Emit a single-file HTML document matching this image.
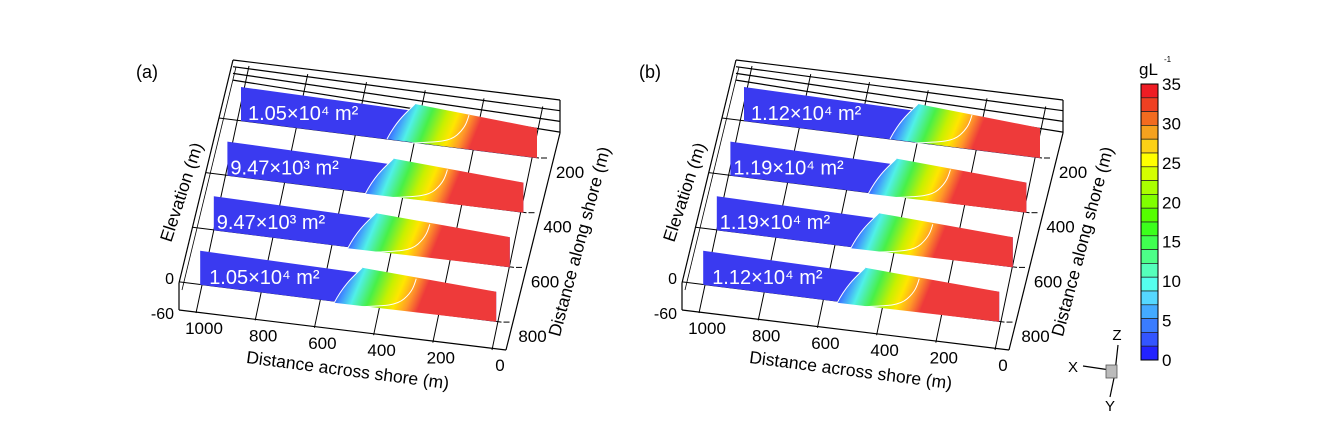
<!DOCTYPE html>
<html><head><meta charset="utf-8">
<style>
html,body{margin:0;padding:0;background:#fff;}
svg{display:block;font-family:"Liberation Sans",Arial,sans-serif;}
</style></head>
<body>
<svg id="fig" width="1338" height="424" viewBox="0 0 1338 424" xmlns="http://www.w3.org/2000/svg">
<defs id="defs"></defs>
<g id="panels"></g>
<g id="cbar"></g>
<g id="triad">
  <line x1="1118" y1="345" x2="1115" y2="372" stroke="#000" stroke-width="1.2"/>
  <line x1="1083" y1="366" x2="1110" y2="370" stroke="#000" stroke-width="1.2"/>
  <line x1="1114" y1="378" x2="1110" y2="397" stroke="#000" stroke-width="1.2"/>
  <rect x="1106" y="365" width="11" height="13" fill="#bbb" stroke="#555" stroke-width="0.8"/>
  <text x="1117" y="340" font-size="15" text-anchor="middle">Z</text>
  <text x="1073" y="372" font-size="15" text-anchor="middle">X</text>
  <text x="1110" y="411" font-size="15" text-anchor="middle">Y</text>
</g>
</svg>
<script>
const acrossTicks = ["1000","800","600","400","200","0"];
const alongTicks = ["200","400","600","800"];
const elevTicks = ["0","-60"];
const areaA = ["1.05×10⁴ m²","9.47×10³ m²","9.47×10³ m²","1.05×10⁴ m²"];
const areaB = ["1.12×10⁴ m²","1.19×10⁴ m²","1.19×10⁴ m²","1.12×10⁴ m²"];
const cbarTicks = [35,30,25,20,15,10,5,0];
const cbarColors = ["#ee1c24","#ef4022","#f26b1f","#f5a21e","#fcd116","#ffff00","#d4ff00","#aaff00","#80ff00","#55ff00","#3cff1c","#40ff50","#4dff88","#55ffbb","#55ffee","#55d8ff","#44aaff","#3a7cff","#3355ff","#2222ff"];

const NS="http://www.w3.org/2000/svg";
function mk(tag, attrs, parent, text){
  const e=document.createElementNS(NS,tag);
  for(const k in attrs) e.setAttribute(k, attrs[k]);
  if(text!==undefined) e.textContent=text;
  parent.appendChild(e); return e;
}
const panels=document.getElementById('panels');
const defs=document.getElementById('defs');
const stops=[[0,"#3a3af0"],[0.1,"#3f8cff"],[0.24,"#50f0e8"],[0.42,"#48f048"],[0.6,"#c8f000"],[0.72,"#ffe600"],[0.86,"#ff9a28"],[1,"#ee3a3a"]];
let gid=0;

function drawPanel(dx, letter, areas){
  const g=mk('g',{transform:`translate(${dx},0)`},panels);
  
  
  const L={stroke:'#000','stroke-width':1.2,fill:'none'};
  const wallX=y=>233-(y-60)*54/223;
  for(let i=0;i<4;i++){
    mk('line',Object.assign({x1:233,y1:60+i*6.7,x2:560,y2:100+i*10.7},L),g);
  }
  mk('line',Object.assign({x1:233,y1:60,x2:179,y2:283},L),g);
  mk('line',Object.assign({x1:236,y1:67,x2:182,y2:290},{stroke:'#000','stroke-width':0.8}),g);
  mk('line',Object.assign({x1:179,y1:283,x2:179,y2:310},L),g);
  mk('line',Object.assign({x1:560,y1:100,x2:560,y2:133},L),g);
  mk('line',Object.assign({x1:560,y1:133,x2:506,y2:350},L),g);
  mk('line',Object.assign({x1:179,y1:310,x2:506,y2:350},L),g);
  acrossTicks.forEach((t,i)=>{
    const tx=249+i*58.75, ty=66+i*8.1, bx=196+i*59.2, by=313+i*7.4;
    const ln=mk('line',{x1:tx,y1:ty,x2:bx,y2:by,stroke:'#000','stroke-width':1},g);
    
    
    const lb=mk('text',{x:bx+8,y:by+21,'font-size':17,'text-anchor':'middle'},g,t);
    
    
  });
  alongTicks.forEach((t,i)=>{
    const y0=158+i*54.7, xr=539-i*12.5;
    let xl=wallX(y0-40);
    for(let k=0;k<3;k++){ const yl=y0-(xr-xl)*0.125; xl=wallX(yl); }
    const yl=y0-(xr-xl)*0.125;
    const ln=mk('line',{x1:xl,y1:yl,x2:xr,y2:y0,stroke:'#000','stroke-width':1},g);
    
    
    mk('line',{x1:xr+2,y1:y0,x2:xr+8,y2:y0,stroke:'#000','stroke-width':1},g);
    const lb=mk('text',{x:xr+31,y:y0+20,'font-size':17,'text-anchor':'middle'},g,t);
    
    
  });
  areas.forEach((a,i)=>{
    const ox=-13.6*i, oy=54.6*i;
    const x0=241+ox, x1=537+ox;
    const pts=`${x0},${87+oy} ${x1},${128+oy} ${x1},${158+oy} ${x0},${121+oy}`;
    const sh=(i===0?0:-8)-(i>1?4:0);
    const bx=387+ox+sh;
    const id='sg'+(gid++);
    const lg=mk('linearGradient',{id:id,gradientUnits:'userSpaceOnUse',x1:bx+4,y1:118+oy,x2:bx+82,y2:150+oy},defs);
    stops.forEach(s=>mk('stop',{offset:s[0],'stop-color':s[1]},lg));
    const bl=mk('polygon',{points:pts,fill:'#3a3af0'},g);
    
    
    const gp=`M ${bx},${139+oy} C ${bx+10},${120+oy} ${bx+20},${112+oy} ${bx+28},${104+oy} L ${x1},${128+oy} L ${x1},${158+oy} Z`;
    const gr=mk('path',{d:gp,fill:`url(#${id})`},g);
    
    
    mk('path',{d:`M ${bx},${139+oy} C ${bx+10},${120+oy} ${bx+20},${112+oy} ${bx+28},${104+oy}`,fill:'none',stroke:'#fff','stroke-width':1},g);
    mk('path',{d:`M ${bx+25},${143+oy} C ${bx+50},${142+oy} ${bx+62},${142+oy} ${bx+70},${135+oy} C ${bx+78},${128+oy} ${bx+80},${122+oy} ${bx+82},${115+oy}`,fill:'none',stroke:'#fff','stroke-width':1},g);
    const tx=mk('text',{x:248+ox-(i>0?4:0)+(i===3?6:0),y:120+oy,'font-size':20,fill:'#fff'},g,a);
    
    
  });
  elevTicks.forEach((t,i)=>{
    const lb=mk('text',{x:174,y:284+i*35,'font-size':16,'text-anchor':'end'},g,t);
    
    
  });
  const pl=mk('text',{x:136,y:78,'font-size':18},g,'('+letter+')');
  
  
  const t1=mk('text',{x:0,y:0,'font-size':17.5,'text-anchor':'middle',transform:'translate(187,194) rotate(-72)'},g,'Elevation (m)');
  
  
  const t2=mk('text',{x:0,y:0,'font-size':17.5,'text-anchor':'middle',transform:'translate(347,376) rotate(7.4)'},g,'Distance across shore (m)');
  
  
  const t3=mk('text',{x:0,y:0,'font-size':17.5,'text-anchor':'middle',transform:'translate(585,243) rotate(-75)'},g,'Distance along shore (m)');
  
  
}
drawPanel(0,'a',areaA);
drawPanel(503,'b',areaB);

const cb=document.getElementById('cbar');
const cTop=84, cBot=360, cx=1141, cw=17;
const vmax=cbarTicks[0], vmin=cbarTicks[cbarTicks.length-1];
const yv=v=>cBot-(v-vmin)/(vmax-vmin)*(cBot-cTop);
const seg=(cBot-cTop)/cbarColors.length;
cbarColors.forEach((c,i)=>{
  const r=mk('rect',{x:cx,y:cTop+i*seg,width:cw,height:seg,fill:c,stroke:'#222','stroke-width':0.7},cb);
  
  
});
mk('rect',{x:cx,y:cTop,width:cw,height:cBot-cTop,fill:'none',stroke:'#000','stroke-width':1},cb);
cbarTicks.forEach(v=>{
  const t=mk('text',{x:1162,y:yv(v)+6,'font-size':17},cb,String(v));
  
  
});
const ct=mk('text',{x:1139,y:75,'font-size':17},cb,'gL');


mk('text',{x:1164,y:62,'font-size':8},cb,'-1');
</script>
</body></html>
